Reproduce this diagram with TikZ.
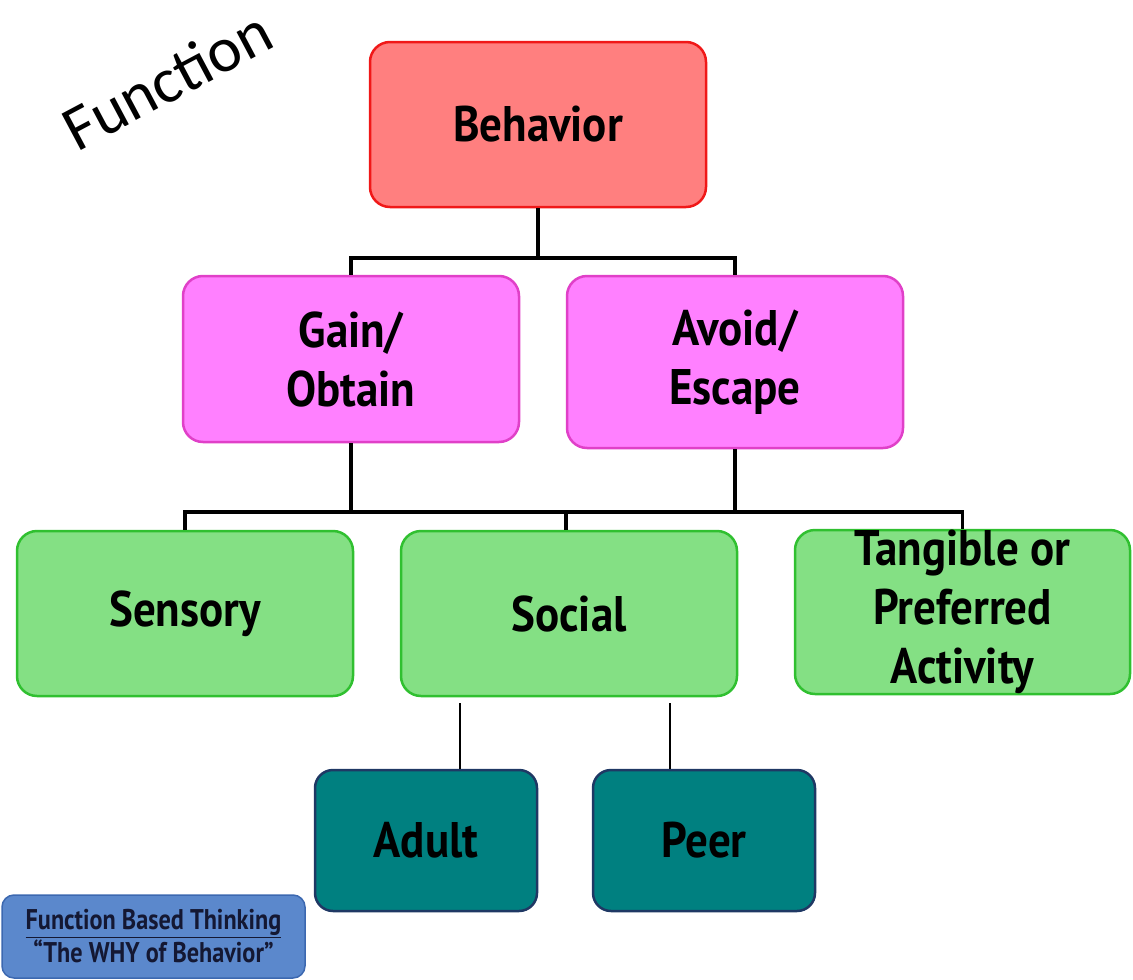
\documentclass[tikz,border=0pt]{standalone}
\usepackage{fontspec}
\setmainfont{PT Sans}
\newfontfamily\boxfont[FakeStretch=0.9]{PT Sans}
\newfontfamily\smallfont[FakeStretch=0.85]{PT Sans}
\newfontfamily\titlefont{Carlito}
\definecolor{behfill}{HTML}{FF7F7F}
\definecolor{behdraw}{HTML}{F01818}
\definecolor{magfill}{HTML}{FF80FF}
\definecolor{magdraw}{HTML}{E040C8}
\definecolor{grnfill}{HTML}{84E084}
\definecolor{grndraw}{HTML}{30C030}
\definecolor{tealfill}{HTML}{008080}
\definecolor{tealdraw}{HTML}{1F3864}
\definecolor{bluefill}{HTML}{5B88CC}
\definecolor{bluedraw}{HTML}{3C68B0}
\definecolor{navytext}{HTML}{141833}
\tikzset{
  box/.style={rectangle, rounded corners=20pt, line width=2.5pt, align=center,
    font=\boxfont\bfseries\fontsize{50}{59}\selectfont, text=black, inner sep=0pt},
  behbox/.style={box, fill=behfill, draw=behdraw},
  magbox/.style={box, fill=magfill, draw=magdraw},
  grnbox/.style={box, fill=grnfill, draw=grndraw},
  tealbox/.style={box, fill=tealfill, draw=tealdraw, rounded corners=18pt},
  conn/.style={line width=3.5pt, black},
  thinconn/.style={line width=2.5pt, black},
}
\begin{document}
\begin{tikzpicture}[x=1pt,y=-1pt]
\useasboundingbox (0,0) rectangle (1133,980);
\node[font=\titlefont\fontsize{64}{64}\selectfont, rotate=28, inner sep=0pt] (title) at (167,80) {Function};

\node[behbox, minimum width=336pt, minimum height=165pt] (beh) at (538,124.5) {Behavior};
\node[magbox, minimum width=336pt, minimum height=166pt] (gain) at (351,359) {Gain/\\Obtain};
\node[magbox, minimum width=336pt, minimum height=172pt] (avoid) at (735,362) {Avoid/\\Escape};
\node[grnbox, minimum width=336pt, minimum height=165pt] (sens) at (185,613.5) {Sensory};
\node[grnbox, minimum width=336pt, minimum height=165pt] (soc) at (569,613.5) {Social};
\node[grnbox, minimum width=335pt, minimum height=164pt] (tang) at (962.5,612) {Tangible or\\Preferred\\Activity};
\node[tealbox, minimum width=222pt, minimum height=141pt] (adult) at (426,840.5) {Adult};
\node[tealbox, minimum width=222pt, minimum height=141pt] (peer) at (704,840.5) {Peer};
\node[rectangle, rounded corners=12pt, fill=bluefill, draw=bluedraw, line width=1.5pt,
  minimum width=303pt, minimum height=83pt, align=center, text=navytext, inner sep=0pt,
  font=\smallfont\bfseries\fontsize{28.5}{33}\selectfont] (fbt) at (153.5,936.5)
  {\underline{Function Based Thinking}\\“The WHY of Behavior”};

% top tree
\coordinate (top) at (538,258);
\draw[conn] (beh.south) -- (top);
\draw[conn] (gain.north) |- (top) -| (avoid.north);
% middle bus
\coordinate (bus) at (0,512);
\draw[conn] (gain.south) -- (gain.south |- bus);
\draw[conn] (avoid.south) -- (avoid.south |- bus);
\draw[conn] (sens.north) |- (tang.north |- bus) -- (tang.north);
\coordinate (socbus) at (566,512);
\draw[conn] (socbus) -- (socbus |- soc.north);
% social to adult/peer
\coordinate (sa) at (460,703);
\coordinate (sp) at (670,703);
\draw[thinconn] (sa) -- (sa |- adult.north);
\draw[thinconn] (sp) -- (sp |- peer.north);
\end{tikzpicture}
\end{document}
